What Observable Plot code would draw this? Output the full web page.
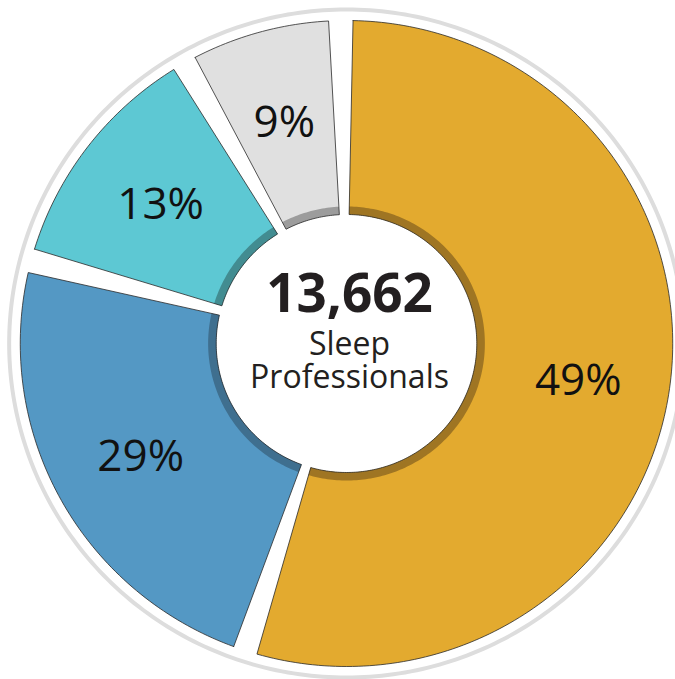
<!DOCTYPE html>
<html>
<head>
<meta charset="utf-8">
<script src="https://cdn.jsdelivr.net/npm/d3@7"></script>
<script src="https://cdn.jsdelivr.net/npm/@observablehq/plot@0.6"></script>
<style>
  html, body { margin: 0; padding: 0; background: #fff; overflow: hidden; }
  #chart svg { display: block; }
</style>
</head>
<body>
<div id="chart"></div>
<script>
// ---- data ----
const sliceLabels = ["49%", "29%", "13%", "9%"];
// share of the circle each slice occupies as drawn (percent)
const sliceShare = [55.3, 24.1, 12.6, 8.0];
const sliceColors = ["#E3AA2F", "#5498C4", "#5DC8D3", "#E0E0E0"];
const rimColors = ["#9F7523", "#3F6F8F", "#428C91", "#9C9C9C"];
const centerLines = ["13,662", "Sleep", "Professionals"];

// ---- layout ----
const W = 675, H = 679;
const cx = 346, cy = 343;
const sx = 1.01; // slight horizontal stretch seen in the reference
const startDeg = -1, padDeg = 2.15;
const rOuter = 323, rInner = 129, rRim = 137, ringR = 334, labelR = 232;

const rad = d => d * Math.PI / 180;
const pt = (r, deg) => ({x: r * Math.sin(rad(deg)), y: -r * Math.cos(rad(deg))});
function annulus(r0, r1, a0, a1) {
  const pts = [];
  const n = Math.max(2, Math.ceil(Math.abs(a1 - a0)));
  for (let i = 0; i <= n; i++) pts.push(pt(r1, a0 + (a1 - a0) * i / n));
  for (let i = n; i >= 0; i--) pts.push(pt(r0, a0 + (a1 - a0) * i / n));
  pts.push(pts[0]);
  return pts;
}

let cum = 0;
const slices = sliceShare.map((s, i) => {
  const a0 = startDeg + cum * 3.6 + padDeg;
  cum += s;
  const a1 = startDeg + cum * 3.6 - padDeg;
  const mid = (a0 + a1) / 2;
  const lp = pt(labelR, mid);
  return {
    label: sliceLabels[i], color: sliceColors[i], rim: rimColors[i],
    body: annulus(rInner, rOuter, a0, a1),
    rimPts: annulus(rInner, rRim, a0, a1),
    lx: lp.x, ly: lp.y
  };
});

const ring = d3.range(0, 361, 1).map(d => pt(ringR, d));

const marks = [];
marks.push(Plot.line(ring, {x: "x", y: "y", stroke: "#DDDDDD", strokeWidth: 4, curve: "linear"}));
for (const s of slices) {
  marks.push(Plot.line(s.body, {x: "x", y: "y", fill: s.color, stroke: "none"}));
  marks.push(Plot.line(s.rimPts, {x: "x", y: "y", fill: s.rim, stroke: "none"}));
  marks.push(Plot.line(s.body, {x: "x", y: "y", fill: "none", stroke: "#2a2a2a", strokeWidth: 0.8}));
}
marks.push(Plot.text(slices, {x: "lx", y: "ly", text: "label", fontSize: 44, dy: 3,
  fontFamily: "Open Sans", fill: "#111", textAnchor: "middle"}));

const centerData = [
  {t: centerLines[0], y: -48, size: 53, weight: "bold"},
  {t: centerLines[1], y: 1, size: 32, weight: "normal"},
  {t: centerLines[2], y: 34, size: 32, weight: "normal"}
];
for (const c of centerData) {
  marks.push(Plot.text([c], {x: () => 3, y: "y", text: "t", fontSize: c.size,
    fontWeight: c.weight, fontFamily: "Open Sans", fill: "#231F20", textAnchor: "middle"}));
}

const chart = Plot.plot({
  width: W, height: H,
  margin: 0,
  x: {domain: [-cx / sx, (W - cx) / sx], range: [0, W], axis: null},
  y: {domain: [-cy, H - cy], range: [0, H], axis: null},
  marks
});
document.getElementById("chart").appendChild(chart);
</script>
</body>
</html>
